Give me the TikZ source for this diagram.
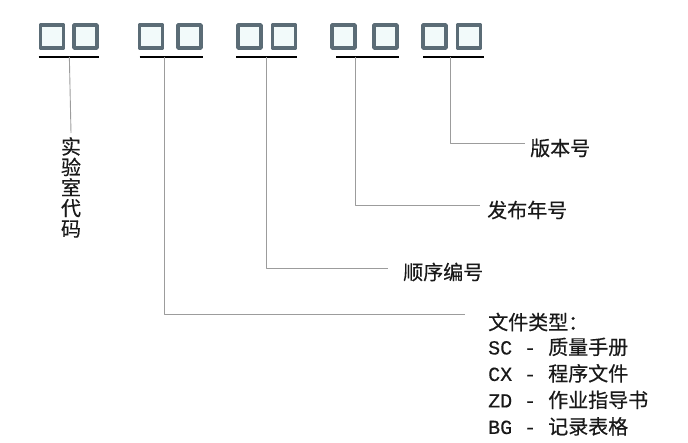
\documentclass[tikz,border=0pt]{standalone}
\usepackage{fontspec}
\setmainfont[FakeBold=0.4]{Noto Sans CJK SC}
\newfontfamily\codefont[FakeBold=0.4]{Liberation Mono}
\usetikzlibrary{positioning}
\definecolor{boxgray}{HTML}{5B6C76}
\definecolor{boxfill}{HTML}{F2FAFA}
\definecolor{leadgray}{HTML}{9C9C9C}
\tikzset{
  digit/.style={draw=boxgray, line width=3.6pt, fill=boxfill, minimum size=23pt, inner sep=0pt},
  underline/.style={black, line width=1.9pt},
  leader/.style={leadgray, line width=0.9pt},
  lbl/.style={font=\fontsize{20}{26}\selectfont, anchor=west, inner sep=0pt, text=black!90}
}
\begin{document}
\begin{tikzpicture}[x=1pt, y=-1pt, line join=round]
	\useasboundingbox (0,0) rectangle (688,442);
	% code boxes
	\node[digit] (a1) at (52,36.5) {};   \node[digit] (a2) at (85.5,36.5) {};
	\node[digit] (b1) at (151,36.5) {};  \node[digit] (b2) at (189.5,36.5) {};
	\node[digit] (c1) at (249.5,36.5) {};\node[digit] (c2) at (284,36.5) {};
	\node[digit] (d1) at (343.5,36.5) {};\node[digit] (d2) at (385.5,36.5) {};
	\node[digit] (e1) at (434.5,36.5) {};\node[digit] (e2) at (469,36.5) {};
	% underlines
	\draw[underline] ([yshift=-7pt]a1.south west) -- coordinate[pos=0.51] (ua) ([yshift=-7pt]a2.south east);
	\draw[underline] ([xshift=2pt,yshift=-7pt]b1.south west) -- coordinate[pos=0.40] (ub) ([yshift=-7pt]b2.south east);
	\draw[underline] ([yshift=-7pt]c1.south west) -- coordinate[pos=0.49] (uc) ([yshift=-7pt]c2.south east);
	\draw[underline] ([xshift=6pt,yshift=-7pt]d1.south west) -- coordinate[pos=0.31] (ud) ([yshift=-7pt]d2.south east);
	\draw[underline] ([xshift=2pt,yshift=-7pt]e1.south west) -- coordinate[pos=0.44] (ue) ([xshift=2pt,yshift=-7pt]e2.south east);
	% labels
	\node[lbl, font=\fontsize{20}{20.5}\selectfont, anchor=north, align=center] (lab) at (71,137) {实\\验\\室\\代\\码};
	\node[lbl] (ver) at (530,148) {版本号};
	\node[lbl] (year) at (487,210) {发布年号};
	\node[lbl] (seq) at (403,272) {顺序编号};
	\node[lbl] (type) at (488,322) {文件类型：};
	\node[lbl, anchor=north west, align=left] (kinds) at ([yshift=-6pt]type.south west)
		{{\codefont SC - }质量手册\\[0.5pt]{\codefont CX - }程序文件\\[0.5pt]{\codefont ZD - }作业指导书\\[0.5pt]{\codefont BG - }记录表格};
	% leaders
	\draw[leader] (ua) -- ([yshift=4pt]lab.north);
	\draw[leader] (ue) |- ([xshift=-5pt,yshift=5pt]ver.west);
	\draw[leader] (ud) |- ([xshift=-7pt,yshift=5pt]year.west);
	\draw[leader] (uc) |- ([xshift=-15pt,yshift=4pt]seq.west);
	\draw[leader] (ub) |- ([xshift=-23pt,yshift=8pt]type.west);
\end{tikzpicture}
\end{document}
